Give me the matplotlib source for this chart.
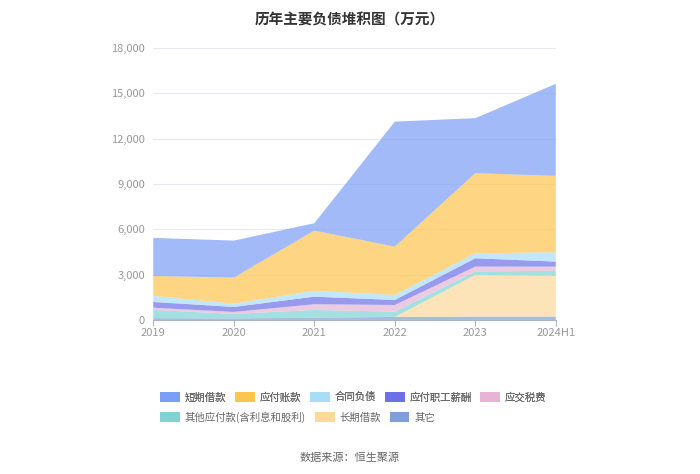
import matplotlib.pyplot as plt
from matplotlib.patches import Patch

plt.rcParams['font.family'] = ['Noto Sans CJK SC', 'DejaVu Sans']

# Data (万元)
years = ["2019", "2020", "2021", "2022", "2023", "2024H1"]
others = [120, 100, 150, 200, 220, 220]
long_loans = [0, 0, 0, 0, 2760, 2710]
other_payables = [540, 300, 510, 350, 220, 330]
taxes = [150, 130, 380, 440, 330, 270]
staff_pay = [380, 330, 500, 330, 550, 330]
contract_liab = [400, 220, 390, 330, 330, 620]
accounts_payable = [1320, 1720, 3980, 3200, 5300, 5050]
short_loans = [2520, 2450, 490, 8270, 3640, 6090]

# bottom to top
series = [
    ("其它", others, '#7fa0d6'),
    ("长期借款", long_loans, '#fdd99a'),
    ("其他应付款(含利息和股利)", other_payables, '#7fd4d3'),
    ("应交税费", taxes, '#e8b4d6'),
    ("应付职工薪酬", staff_pay, '#6c6fe8'),
    ("合同负债", contract_liab, '#a8ddf8'),
    ("应付账款", accounts_payable, '#fdc44f'),
    ("短期借款", short_loans, '#7b9ff6'),
]

fig = plt.figure(figsize=(7, 4.74), dpi=100)
ax = fig.add_axes([0.219, 0.325, 0.575, 0.574])

x = list(range(len(years)))
ax.stackplot(x, *[s[1] for s in series], colors=[s[2] for s in series],
             alpha=0.7, linewidth=0)

ax.set_xlim(0, len(years) - 1)
ax.set_ylim(0, 18000)
ax.set_yticks(range(0, 18001, 3000))
ax.set_yticklabels([f"{v:,}" for v in range(0, 18001, 3000)])
ax.set_xticks(x)
ax.set_xticklabels(years)
ax.grid(axis='y', color='#e6e9f0', linewidth=0.8)
ax.set_axisbelow(True)
for side in ['left', 'right', 'top']:
    ax.spines[side].set_visible(False)
ax.spines['bottom'].set_color('#aab4c8')
ax.tick_params(axis='y', length=0, labelsize=8, colors='#999999', pad=6)
ax.tick_params(axis='x', length=4, color='#aab4c8', labelsize=8,
               colors='#999999', pad=2)

fig.text(0.5, 0.975, "历年主要负债堆积图（万元）", ha='center', va='top',
         fontsize=10.5, fontweight='bold', color='#333333')

handles = {name: Patch(facecolor=c, edgecolor='none') for name, _, c in series}
row1 = ["短期借款", "应付账款", "合同负债", "应付职工薪酬", "应交税费"]
row2 = ["其他应付款(含利息和股利)", "长期借款", "其它"]
kw = dict(frameon=False, fontsize=7.5, handlelength=1.9, handleheight=1.0,
          handletextpad=0.45, columnspacing=0.85, labelcolor='#666666',
          borderaxespad=0, borderpad=0)
leg1 = fig.legend([handles[n] for n in row1], row1, ncol=5,
                  loc='center left', bbox_to_anchor=(0.229, 0.162), **kw)
fig.legend([handles[n] for n in row2], row2, ncol=3,
           loc='center left', bbox_to_anchor=(0.229, 0.12), **kw)
fig.add_artist(leg1)

fig.text(0.5, 0.035, "数据来源：恒生聚源", ha='center', va='center',
         fontsize=8, color='#666666')

fig.savefig("out.png", dpi=100)
